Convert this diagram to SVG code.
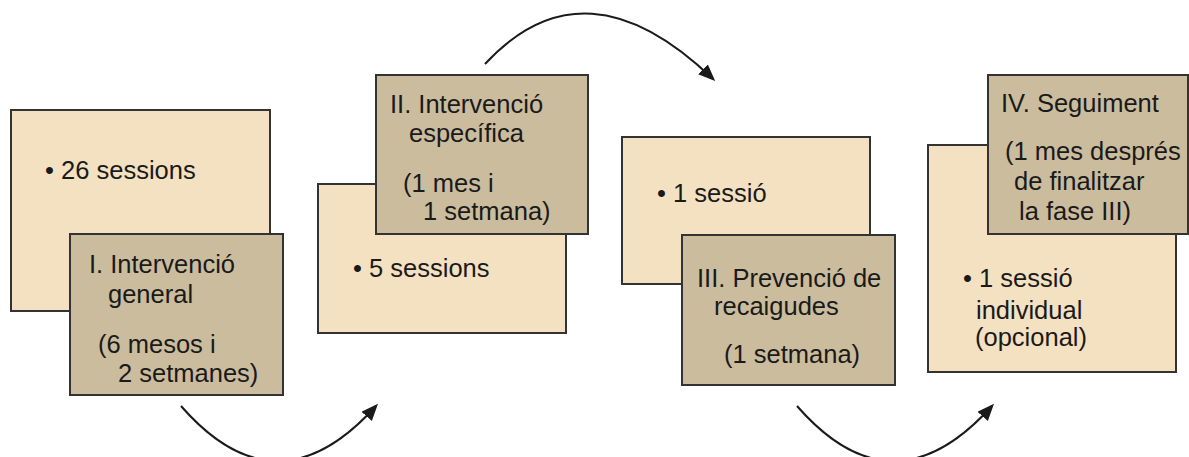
<svg xmlns="http://www.w3.org/2000/svg" width="1189" height="457" viewBox="0 0 1189 457">
<style>
.light{fill:#F4E1C1;stroke:#333;stroke-width:2}
.dark{fill:#CBBC9E;stroke:#333;stroke-width:2}
text{font-family:"Liberation Sans",Arial,sans-serif;font-size:25.5px;fill:#1a1a1a}
.conn{fill:none;stroke:#1a1a1a;stroke-width:2}
</style>
<defs>
<marker id="ah" markerUnits="userSpaceOnUse" markerWidth="20" markerHeight="16" refX="14" refY="7" orient="auto">
<path d="M0,0 L17,7 L0,14 z" fill="#1a1a1a"/>
</marker>
</defs>
<rect width="1189" height="457" fill="#fff"/>
<g id="phase1">
<rect class="light" x="11" y="110" width="259" height="201"/>
<text x="45" y="179">• 26 sessions</text>
<rect class="dark" x="70" y="234" width="213" height="161"/>
<text x="89" y="273">I. Intervenció</text>
<text x="108" y="303">general</text>
<text x="98" y="353">(6 mesos i</text>
<text x="118" y="382">2 setmanes)</text>
</g>
<g id="phase2">
<rect class="light" x="318" y="184" width="248" height="149"/>
<text x="353" y="277">• 5 sessions</text>
<rect class="dark" x="376" y="75" width="212" height="159"/>
<text x="390" y="113">II. Intervenció</text>
<text x="409" y="142">específica</text>
<text x="403" y="192">(1 mes i</text>
<text x="423" y="220">1 setmana)</text>
</g>
<g id="phase3">
<rect class="light" x="622" y="137" width="248" height="147"/>
<text x="657" y="202">• 1 sessió</text>
<rect class="dark" x="682" y="235" width="213" height="150"/>
<text x="697" y="287">III. Prevenció de</text>
<text x="714" y="315">recaigudes</text>
<text x="724" y="363">(1 setmana)</text>
</g>
<g id="phase4">
<rect class="light" x="928" y="145" width="248" height="227"/>
<text x="963" y="287">• 1 sessió</text>
<text x="976" y="319">individual</text>
<text x="975" y="346">(opcional)</text>
<rect class="dark" x="988" y="75" width="200" height="159"/>
<text x="1001" y="112">IV. Seguiment</text>
<text x="1005" y="160">(1 mes després</text>
<text x="1014" y="190">de finalitzar</text>
<text x="1019" y="220">la fase III)</text>
</g>
<g id="connectors">
<path class="conn" d="M181,406 Q277,516 376,406" marker-end="url(#ah)"/>
<path class="conn" d="M485,64 Q585,-44 713,79" marker-end="url(#ah)"/>
<path class="conn" d="M797,406 Q893,516 992,406" marker-end="url(#ah)"/>
</g>
</svg>
